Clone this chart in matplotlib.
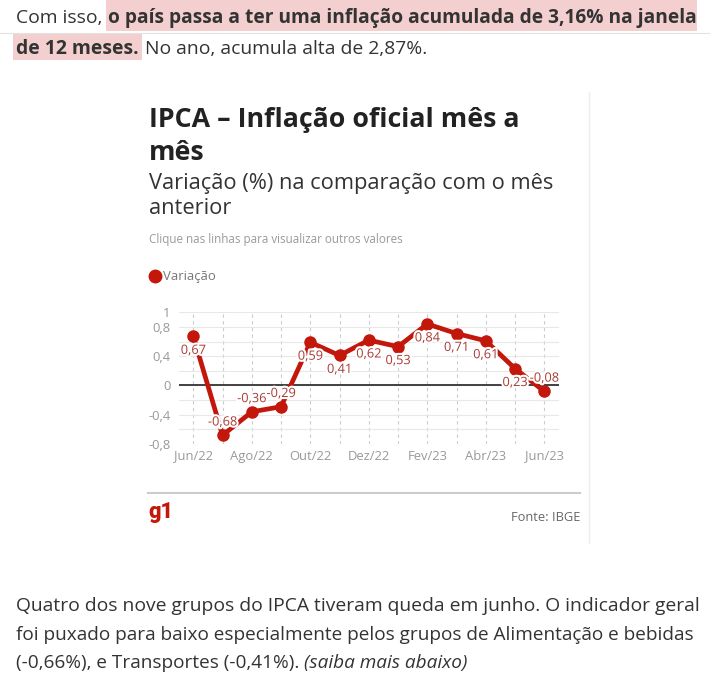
import matplotlib
matplotlib.use("Agg")
import matplotlib.pyplot as plt
from matplotlib.lines import Line2D
from matplotlib.patches import Rectangle
from matplotlib.ticker import MultipleLocator
import matplotlib.patheffects as pe

# ---------------- data ----------------
months = ['Jun/22', 'Jul/22', 'Ago/22', 'Set/22', 'Out/22', 'Nov/22', 'Dez/22',
          'Jan/23', 'Fev/23', 'Mar/23', 'Abr/23', 'Mai/23', 'Jun/23']
variacao = [0.67, -0.68, -0.36, -0.29, 0.59, 0.41, 0.62, 0.53, 0.84, 0.71, 0.61, 0.23, -0.08]
ytick_vals = [-0.8, -0.4, 0, 0.4, 0.8, 1]
ytick_labels = ['-0,8', '-0,4', '0', '0,4', '0,8', '1']

W, H = 710, 696
RED = '#c4170c'
plt.rcParams['font.family'] = ['Open Sans', 'DejaVu Sans']

fig = plt.figure(figsize=(W / 100, H / 100), dpi=100)
fig.patch.set_facecolor('white')
renderer = fig.canvas.get_renderer()


def fx(x):
    return x / W


def fy(y):
    return 1 - y / H


def ptext(x, y, s, target_w=None, size=12, **kw):
    t = fig.text(fx(x), fy(y), s, fontsize=size, va='baseline', **kw)
    if target_w:
        for _ in range(2):
            bb = t.get_window_extent(renderer)
            t.set_fontsize(t.get_fontsize() * target_w / bb.width)
    return t


def right_px(t):
    return t.get_window_extent(renderer).x1


def hline(x0, x1, y, color, lw):
    fig.add_artist(Line2D([fx(x0), fx(x1)], [fy(y), fy(y)], color=color, lw=lw,
                          transform=fig.transFigure))


# ---------------- page text ----------------
hline(0, 710, 33, '#e2e2e2', 0.8)
fig.add_artist(Rectangle((fx(106), fy(31)), fx(697) - fx(106), fy(0) - fy(31),
                         transform=fig.transFigure, color='#f3cfcf', lw=0, zorder=0))
fig.add_artist(Rectangle((fx(13), fy(60)), fx(142) - fx(13), fy(34) - fy(60),
                         transform=fig.transFigure, color='#f3cfcf', lw=0, zorder=0))

PAGE = '#333333'
ref = ptext(16, 611, 'Quatro dos nove grupos do IPCA tiveram queda em junho. O indicador geral',
            target_w=681, color=PAGE)
ps = ref.get_fontsize()
ptext(16, 640, 'foi puxado para baixo especialmente pelos grupos de Alimentação e bebidas',
      target_w=683, color=PAGE)
t3 = ptext(16, 668, '(-0,66%), e Transportes (-0,41%).', target_w=284, color=PAGE)
ptext(right_px(t3) + 5, 668, '(saiba mais abaixo)', size=t3.get_fontsize(), color=PAGE,
      style='italic')

ptext(16, 23, 'Com isso,', size=ps, color=PAGE)
ptext(108, 23, 'o país passa a ter uma inflação acumulada de 3,16% na janela',
      target_w=588, color=PAGE, weight='bold')
b2 = ptext(16, 54, 'de 12 meses.', target_w=123, color=PAGE, weight='bold')
ptext(145, 54, 'No ano, acumula alta de 2,87%.', size=ps, color=PAGE)

# ---------------- chart card ----------------
fig.add_artist(Line2D([fx(589), fx(589)], [fy(92), fy(543)], color='#eeeeee', lw=1,
                      transform=fig.transFigure))

tt = ptext(149, 127, 'IPCA – Inflação oficial mês a', target_w=371, color='#222222', weight='bold')
ptext(149, 160, 'mês', size=tt.get_fontsize(), color='#222222', weight='bold')
st = ptext(149, 189, 'Variação (%) na comparação com o mês', target_w=405, color='#333333')
ptext(149, 214, 'anterior', size=st.get_fontsize(), color='#333333')
ptext(149, 243, 'Clique nas linhas para visualizar outros valores', target_w=253, color='#9a9a9a')

fig.add_artist(Line2D([fx(155)], [fy(276)], marker='o', ms=9, color=RED, lw=0,
                      transform=fig.transFigure))
ptext(163, 280, 'Variação', target_w=53, color='#777777')

# axes
x0, x1 = 178.7, 558.9
ytop, ybot = 312.3, 444.0
ax = fig.add_axes([fx(x0), fy(ybot), fx(x1) - fx(x0), fy(ytop) - fy(ybot)])
ax.set_xlim(-0.5, len(months) - 0.5)
ax.set_ylim(-0.8, 1.0)
for s in ax.spines.values():
    s.set_visible(False)

xs = list(range(len(months)))
ax.set_xticks(xs)
ax.set_xticklabels([m if i % 2 == 0 else '' for i, m in enumerate(months)])
ax.set_yticks(ytick_vals)
ax.set_yticklabels(ytick_labels)
ax.yaxis.set_minor_locator(MultipleLocator(0.2))
ax.tick_params(axis='both', which='both', length=0, colors='#999999', labelsize=9.4)
ax.tick_params(axis='y', pad=6)
ax.tick_params(axis='x', pad=4)
ax.grid(axis='y', which='both', color='#e8e8e8', lw=0.8, zorder=0)
ax.grid(axis='x', which='major', color='#cccccc', lw=0.8, ls=(0, (3, 3)), zorder=0)
ax.set_axisbelow(True)
ax.axhline(0, color='#333333', lw=1.3, zorder=1)

ax.plot(xs, variacao, color=RED, lw=3.4, marker='o', ms=8, zorder=3, clip_on=False,
        solid_joinstyle='round')
for x, v in zip(xs, variacao):
    off = -10 if v >= 0 else 9.5
    ax.annotate(f'{v:.2f}'.replace('.', ','), (x, v), xytext=(0, off),
                textcoords='offset points', ha='center', va='center',
                fontsize=9.2, color='#a83a34', zorder=5,
                path_effects=[pe.withStroke(linewidth=3, foreground='white')])

# footer
hline(148, 580, 493, '#cccccc', 1.5)
ptext(148, 518, 'g1', target_w=25, color=RED, weight='black', family=['Roboto', 'DejaVu Sans'])
fs = ptext(580, 521, 'Fonte: IBGE', size=9.3, color='#666666', ha='right')

fig.savefig('out.png', dpi=100, facecolor='white')
